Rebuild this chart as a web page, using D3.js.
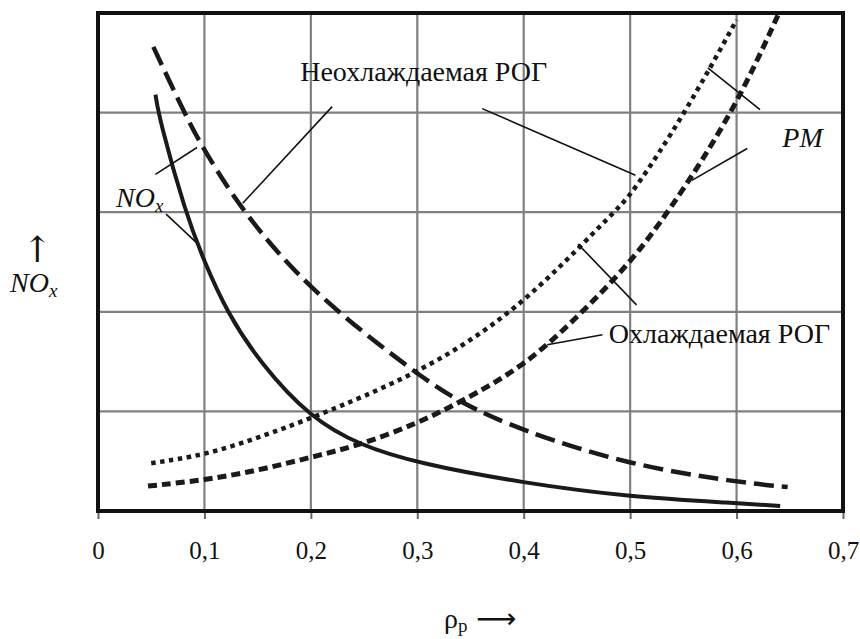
<!DOCTYPE html>
<html>
<head>
<meta charset="utf-8">
<script src="https://d3js.org/d3.v7.min.js"></script>
<style>
  body { margin: 0; background: #fff; }
</style>
</head>
<body>
<svg id="chart"></svg>
<script>
// x ticks (rho_p)
var xTicks = [0, 0.1, 0.2, 0.3, 0.4, 0.5, 0.6, 0.7];
// y grid (arbitrary units, no labels)
var yTicks = [1, 2, 3, 4];

// NOx, solid line
var noxSolid = [[0.054,4.18],[0.058,3.92],[0.082,3.0],[0.1,2.5],[0.121,2.0],[0.152,1.49],[0.2,0.93],
  [0.246,0.66],[0.3,0.48],[0.4,0.28],[0.5,0.14],[0.6,0.08],[0.641,0.05]];
// NOx, long dashes
var noxDashed = [[0.052,4.66],[0.084,3.93],[0.1,3.62],[0.136,3.0],[0.2,2.2],[0.3,1.37],
  [0.34,1.09],[0.397,0.81],[0.5,0.46],[0.6,0.29],[0.648,0.24]];
// PM, dotted
var pmDotted = [[0.05,0.48],[0.1,0.56],[0.152,0.74],[0.2,0.93],[0.3,1.37],[0.394,2.0],[0.484,3.0],
  [0.5,3.15],[0.552,4.0],[0.6,4.93]];
// PM, short dashes
var pmDashed = [[0.047,0.25],[0.1,0.31],[0.152,0.41],[0.2,0.54],[0.246,0.66],[0.3,0.88],[0.34,1.09],
  [0.4,1.45],[0.45,1.94],[0.5,2.49],[0.536,3.0],[0.597,4.0],[0.639,4.98]];

// leader lines, in data units
var leaders = [
  [[0.220,4.06],[0.136,3.09]],
  [[0.361,4.04],[0.505,3.37]],
  [[0.054,3.38],[0.093,3.65]],
  [[0.064,2.98],[0.093,2.69]],
  [[0.573,4.45],[0.622,4.03]],
  [[0.610,3.64],[0.558,3.32]],
  [[0.451,2.68],[0.506,2.07]],
  [[0.474,1.77],[0.422,1.67]]
];

var SERIF = "Liberation Serif";
var width = 860, height = 639;
var margin = {left: 98, top: 13, right: 17, bottom: 128};
var svg = d3.select("#chart").attr("width", width).attr("height", height);

var x = d3.scaleLinear().domain([0, 0.7]).range([margin.left, width - margin.right]);
var y = d3.scaleLinear().domain([0, 5]).range([height - margin.bottom, margin.top]);

svg.append("defs").append("clipPath").attr("id", "clip")
  .append("rect")
  .attr("x", x(0)).attr("y", y(5))
  .attr("width", x(0.7) - x(0)).attr("height", y(0) - y(5));

// grid
svg.append("g").selectAll("line").data(xTicks.slice(1, -1)).enter().append("line")
  .attr("x1", function(d) { return x(d); }).attr("x2", function(d) { return x(d); })
  .attr("y1", y(5)).attr("y2", y(0))
  .attr("stroke", "#808080").attr("stroke-width", 2.2);
svg.append("g").selectAll("line").data(yTicks).enter().append("line")
  .attr("x1", x(0)).attr("x2", x(0.7))
  .attr("y1", function(d) { return y(d); }).attr("y2", function(d) { return y(d); })
  .attr("stroke", "#808080").attr("stroke-width", 2.2);

// x axis
var xAxis = d3.axisBottom(x).tickValues(xTicks).tickSize(8).tickPadding(22)
  .tickFormat(function(d) { return d === 0 ? "0" : d3.format(".1f")(d).replace(".", ","); });
var gx = svg.append("g").attr("transform", "translate(0," + y(0) + ")").call(xAxis);
gx.select(".domain").remove();
gx.selectAll(".tick line").attr("stroke", "#666").attr("stroke-width", 2);
gx.selectAll("text").attr("font-size", 25).attr("font-family", SERIF).attr("fill", "#111");

// frame
svg.append("rect")
  .attr("x", x(0)).attr("y", y(5))
  .attr("width", x(0.7) - x(0)).attr("height", y(0) - y(5))
  .attr("fill", "none").attr("stroke", "#111").attr("stroke-width", 4);

var line = d3.line()
  .x(function(d) { return x(d[0]); })
  .y(function(d) { return y(d[1]); })
  .curve(d3.curveBasis);

var curves = svg.append("g").attr("clip-path", "url(#clip)");
curves.append("path").datum(noxSolid).attr("d", line)
  .attr("fill", "none").attr("stroke", "#1a1a1a").attr("stroke-width", 4);
curves.append("path").datum(noxDashed).attr("d", line)
  .attr("fill", "none").attr("stroke", "#1a1a1a").attr("stroke-width", 4.5)
  .attr("stroke-dasharray", "20,8");
curves.append("path").datum(pmDotted).attr("d", line)
  .attr("fill", "none").attr("stroke", "#1a1a1a").attr("stroke-width", 4.5)
  .attr("stroke-dasharray", "4.5,4.5");
curves.append("path").datum(pmDashed).attr("d", line)
  .attr("fill", "none").attr("stroke", "#1a1a1a").attr("stroke-width", 5)
  .attr("stroke-dasharray", "9,5");

// leaders
svg.append("g").selectAll("line").data(leaders).enter().append("line")
  .attr("x1", function(d) { return x(d[0][0]); }).attr("y1", function(d) { return y(d[0][1]); })
  .attr("x2", function(d) { return x(d[1][0]); }).attr("y2", function(d) { return y(d[1][1]); })
  .attr("stroke", "#111").attr("stroke-width", 1.6);

function label(px, py, size) {
  return svg.append("text").attr("x", px).attr("y", py)
    .attr("font-size", size).attr("font-family", SERIF).attr("fill", "#111");
}

// annotation text
label(x(0.190), y(4.32), 28).text("Неохлаждаемая РОГ");
label(x(0.480), y(1.69), 28).text("Охлаждаемая РОГ");
label(x(0.643), y(3.65), 28).attr("font-style", "italic").text("PM");
var nox = label(x(0.017), y(3.05), 28).attr("font-style", "italic");
nox.append("tspan").text("NO");
nox.append("tspan").attr("font-size", 19).attr("dy", 5).text("x");

// y label
label(37, 262, 36).attr("text-anchor", "middle").attr("font-family", "DejaVu Serif").text("↑");
var yl = label(10, 292, 28).attr("font-style", "italic");
yl.append("tspan").text("NO");
yl.append("tspan").attr("font-size", 19).attr("dy", 5).text("x");

// x label
var xl = label(444, 628, 28);
xl.append("tspan").text("ρ");
xl.append("tspan").attr("font-size", 19).attr("dy", 4).text("р");
label(476, 628, 28).attr("font-family", "DejaVu Sans").text("⟶");
</script>
</body>
</html>
